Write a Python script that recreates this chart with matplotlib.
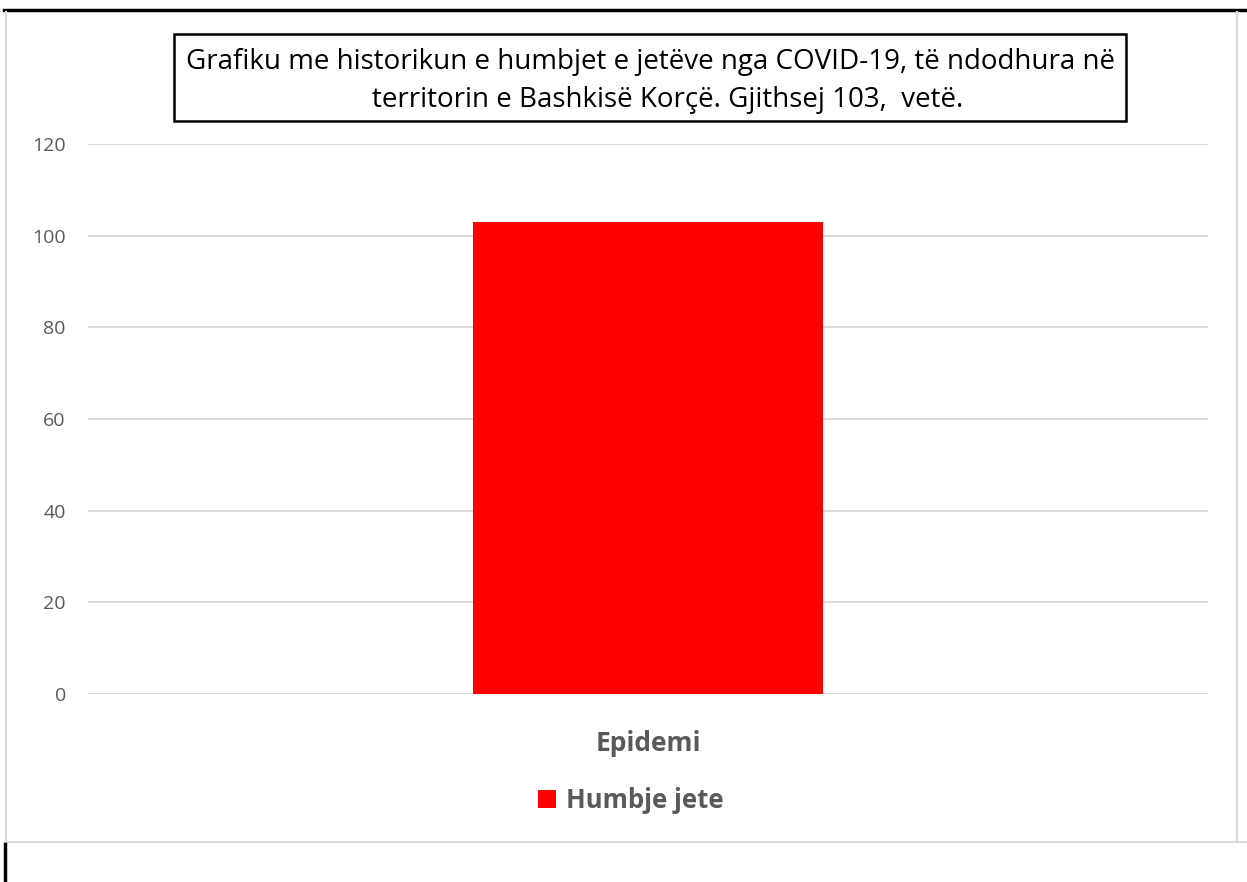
import matplotlib
matplotlib.use("Agg")
import matplotlib.pyplot as plt
from matplotlib.patches import Patch, Rectangle
from matplotlib.lines import Line2D

# ── data ─────────────────────────────────────────────────────────────────────
categories = ["Epidemi"]
deaths = [103]
series_name = "Humbje jete"
title_lines = [
    "Grafiku me historikun e humbjet e jetëve nga COVID-19, të ndodhura në",
    "territorin e Bashkisë Korçë. Gjithsej 103,  vetë.",
]

W, H = 1247, 882
FONT = ["Open Sans", "DejaVu Sans"]
GREY_TXT = "#595959"

fig = plt.figure(figsize=(W / 100, H / 100), dpi=100)
fig.patch.set_facecolor("white")

def fx(px):
    return px / W

def fy(py):
    return 1 - py / H

ax = fig.add_axes([fx(88), fy(694), fx(1208) - fx(88), fy(144) - fy(694)])
ax.bar(categories, deaths, width=0.313, color="#ff0000", zorder=3)
ax.set_xlim(-0.5, 0.5)
ax.set_ylim(0, 120)
ax.set_yticks(range(0, 121, 20))
ax.grid(axis="y", color="#d9d9d9", linewidth=1.3, zorder=0)
for s in ax.spines.values():
    s.set_visible(False)
ax.tick_params(axis="both", length=0)
ax.tick_params(axis="y", labelsize=14, labelcolor=GREY_TXT, pad=16)
ax.tick_params(axis="x", labelsize=19, labelcolor=GREY_TXT, pad=26)
for lab in ax.get_yticklabels():
    lab.set_family(FONT)
for lab in ax.get_xticklabels():
    lab.set_family(FONT)
    lab.set_fontweight("bold")

# ── title box ────────────────────────────────────────────────────────────────
fig.add_artist(Rectangle((fx(174), fy(121)), fx(1126) - fx(174), fy(34) - fy(121),
                         transform=fig.transFigure, facecolor="white",
                         edgecolor="black", linewidth=1.8))
fig.text(fx(650), fy(62), title_lines[0], ha="center", va="center",
         fontsize=20, family=FONT, color="black")
fig.text(fx(668), fy(100), title_lines[1], ha="center", va="center",
         fontsize=20, family=FONT, color="black")

# ── legend ───────────────────────────────────────────────────────────────────
leg = fig.legend(handles=[Patch(facecolor="#ff0000", label=series_name)],
                 loc="center", bbox_to_anchor=(fx(631), fy(800)), frameon=False,
                 handlelength=0.7, handleheight=0.7, handletextpad=0.4,
                 prop={"family": FONT, "size": 18.5, "weight": "bold"})
for t in leg.get_texts():
    t.set_color(GREY_TXT)

# ── page borders ─────────────────────────────────────────────────────────────
fig.add_artist(Line2D([fx(4), 1], [fy(10), fy(10)], color="black", linewidth=2.5,
                      transform=fig.transFigure))
fig.add_artist(Line2D([fx(6), fx(6)], [fy(12), fy(842)], color="#d9d9d9", linewidth=1.5,
                      transform=fig.transFigure))
fig.add_artist(Line2D([fx(1237), fx(1237)], [fy(12), fy(842)], color="#d9d9d9", linewidth=1.5,
                      transform=fig.transFigure))
fig.add_artist(Line2D([fx(5), 1], [fy(842), fy(842)], color="#d9d9d9", linewidth=1.5,
                      transform=fig.transFigure))
fig.add_artist(Line2D([fx(5), fx(5)], [fy(844), 0], color="black", linewidth=2.5,
                      transform=fig.transFigure))

fig.savefig("out.png", dpi=100)
